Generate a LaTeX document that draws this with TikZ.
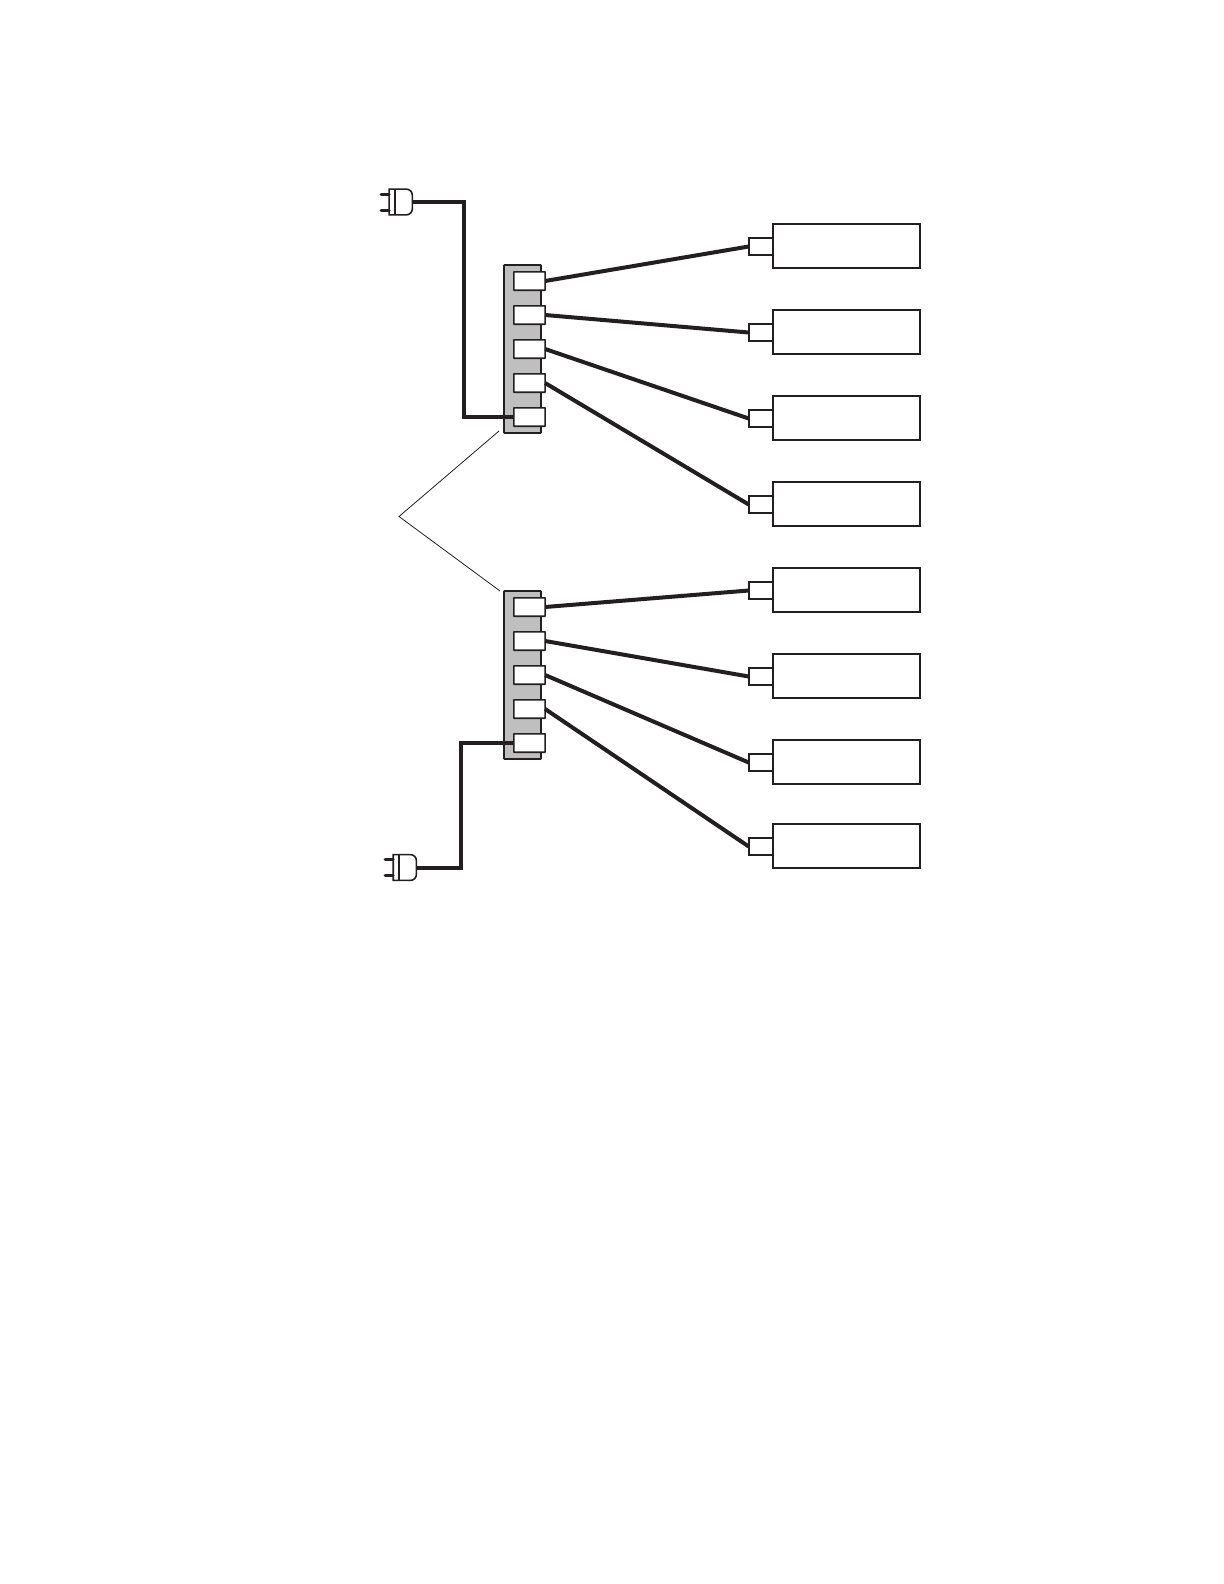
\documentclass[tikz,border=0pt]{standalone}
\usepackage{tikz}
\usetikzlibrary{calc}
\definecolor{inkdark}{RGB}{35,31,32}
\definecolor{stripgray}{RGB}{191,191,191}
\tikzset{
    strip/.style={draw=inkdark, fill=stripgray, line width=0.8bp, rounded corners=0.3bp, minimum width=18.5bp, minimum height=84bp, inner sep=0pt, outer sep=0pt},
    socket/.style={draw=inkdark, fill=white, line width=0.8bp, rounded corners=0.2bp, minimum width=15.6bp, minimum height=9.2bp, inner sep=0pt, outer sep=0pt},
    adapter/.style={draw=inkdark, fill=white, line width=0.8bp, minimum width=12bp, minimum height=8.6bp, inner sep=0pt, outer sep=0pt},
    device/.style={draw=inkdark, fill=white, line width=0.8bp, minimum width=73.7bp, minimum height=22bp, inner sep=0pt, outer sep=0pt},
    plugbody/.style={minimum width=11.6bp, minimum height=12.9bp, inner sep=0pt, outer sep=0pt},
    plugline/.style={draw=inkdark, line width=0.8bp},
    prong/.style={draw=inkdark, line width=1.5bp, line cap=round},
    wire/.style={draw=inkdark, line width=2bp}
}
\begin{document}
\begin{tikzpicture}[x=0.5bp, y=-0.5bp]
\useasboundingbox (0,0) rectangle (1224,1584);
% power strips
\node[strip] (stripA) at (522.5,349) {};
\node[strip] (stripB) at (522.5,675) {};
% sockets
\foreach \i/\y in {1/281,2/315,3/349,4/383,5/417}{
    \node[socket] (sockA\i) at (529.5,\y) {};
}
\foreach \i/\y in {1/607,2/641,3/675,4/709,5/743}{
    \node[socket] (sockB\i) at (529.5,\y) {};
}
% devices
\foreach \i/\y in {1/246,2/332,3/418,4/504,5/590,6/676,7/762,8/846}{
    \node[device] (dev\i) at (846.5,\y) {};
    \node[adapter] (adp\i) at (760.7,\y+0.5) {};
}
% cords to devices
\foreach \s/\d in {sockA1/adp1,sockA2/adp2,sockA3/adp3,sockA4/adp4,sockB1/adp5,sockB2/adp6,sockB3/adp7,sockB4/adp8}{
    \draw[wire] (\s.east) -- (\d.west);
}
% plugs
\node[plugbody] (plugA) at (400.7,202) {};
\node[plugbody] (plugB) at (404.8,867.5) {};
\foreach \p in {plugA,plugB}{
    \draw[prong] ($(\p.west)+(0,-8)$) -- ++(-8,0);
    \draw[prong] ($(\p.west)+(0,8)$) -- ++(-8,0);
    \draw[plugline] (\p.south west) -- (\p.north west) [rounded corners=3bp] -- (\p.north east) -- (\p.south east) [sharp corners] -- cycle;
    \draw[plugline] ($(\p.north west)+(6,0)$) -- ($(\p.south west)+(6,0)$);
}
% cords to strips
\coordinate (bendA) at (463.7,202);
\coordinate (bendB) at (460.7,867.5);
\draw[wire] (plugA.east) -- (bendA) -- (bendA |- sockA5.west) -- (sockA5.west);
\draw[wire] (plugB.east) -- (bendB) -- (bendB |- sockB5.west) -- (sockB5.west);
% leader
\coordinate (apex) at (399,516.5);
\coordinate (leadA) at (499,431);
\coordinate (leadB) at (500,591);
\draw[draw=inkdark, line width=0.4bp] (leadA) -- (apex) -- (leadB);
\end{tikzpicture}
\end{document}
